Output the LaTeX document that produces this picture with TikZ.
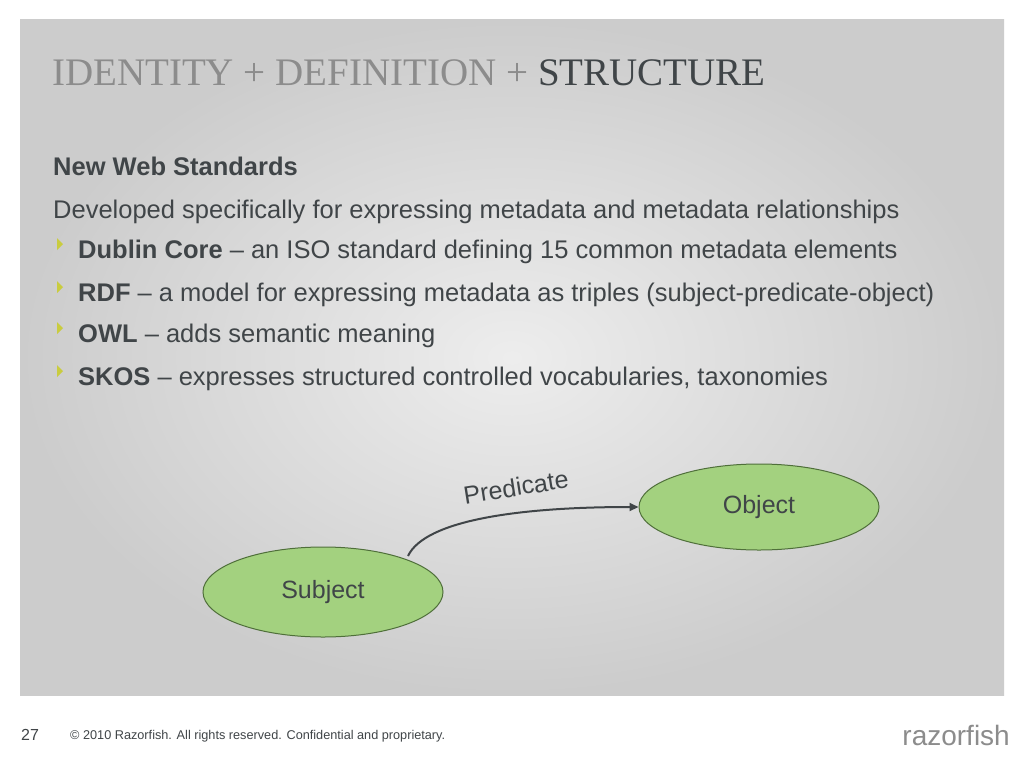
\documentclass[tikz,border=0pt]{standalone}
\usepackage{fontspec}
\setmainfont{Liberation Sans}
\newfontfamily\titlefont{Liberation Serif}
\usetikzlibrary{arrows.meta,shapes.geometric}
\definecolor{txt}{HTML}{404548}
\definecolor{ttl}{HTML}{8C8C8C}
\definecolor{bul}{HTML}{C9CC3F}
\definecolor{elfill}{HTML}{A3D17F}
\definecolor{eldraw}{HTML}{4F6F3A}
\tikzset{
 body/.style={anchor=base west,text=txt,font=\fontsize{25.5}{28}\selectfont,inner sep=0},
 bul/.style={fill=bul,draw=none},
 ell/.style={ellipse,fill=elfill,draw=eldraw,line width=1pt,font=\fontsize{25}{28}\selectfont,text=txt,inner sep=0}
}
\begin{document}
\begin{tikzpicture}[x=1pt,y=-1pt]
\useasboundingbox (0,0) rectangle (1024,768);
\fill[white] (0,0) rectangle (1024,768);
\shade[inner color=white!93!black,outer color=white!80!black] (20,20) rectangle (1004,695);
\node[anchor=base west,inner sep=0,font=\titlefont\fontsize{39}{42}\selectfont] (title) at (52,85) {\textcolor{ttl}{IDENTITY + DEFINITION +} \textcolor{txt}{STRUCTURE}};
\node[body] (l1) at (53,175) {\textbf{New Web Standards}};
\node[body] (l2) at (53,218) {Developed specifically for expressing metadata and metadata relationships};
\node[body] (l3) at (78,258) {\textbf{Dublin Core} -- an ISO standard defining 15 common metadata elements};
\node[body] (l4) at (78,301) {\textbf{RDF} -- a model for expressing metadata as triples (subject-predicate-object)};
\node[body] (l5) at (78,342) {\textbf{OWL} -- adds semantic meaning};
\node[body] (l6) at (78,385) {\textbf{SKOS} -- expresses structured controlled vocabularies, taxonomies};
\foreach \y in {258,301,342,385}{\fill[bul] (57,\y-20) -- (63,\y-14) -- (57,\y-8) -- cycle;}
\node[ell,minimum width=240pt,minimum height=90pt] (subj) at (323,592) {Subject};
\node[ell,minimum width=240pt,minimum height=86pt] (obj) at (759,507) {Object};
\draw[txt,line width=2pt,-{Triangle[length=9pt,width=8pt]}] (408,556) .. controls (425,520) and (520,507) .. (obj.west);
\node[rotate=9,text=txt,font=\fontsize{25}{28}\selectfont,inner sep=1pt] (pred) at (516,487) {Predicate};
\node[anchor=base west,inner sep=0,text=txt,font=\fontsize{16}{18}\selectfont] (num) at (21,740) {27};
\node[anchor=base west,inner sep=0,text=txt,font=\fontsize{12.7}{14}\selectfont] (copy) at (70,739) {© 2010 Razorfish. All rights reserved. Confidential and proprietary.};
\node[anchor=base east,inner sep=0,text=ttl,font=\fontsize{28}{30}\selectfont] (logo) at (1010,745) {razorfish};
\end{tikzpicture}
\end{document}
